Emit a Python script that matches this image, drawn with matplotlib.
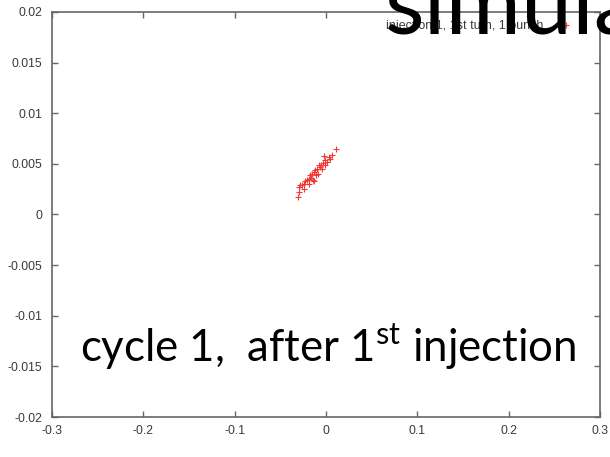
import matplotlib
matplotlib.use("Agg")
import matplotlib.pyplot as plt

# ================================
# Particle positions after the first injection (turn 1, bunch 1)
# ================================
x_pos = [0.0113, 0.0066, 0.0029, -0.0025, -0.0007, -0.0036, -0.0051, -0.0062,
         -0.0080, -0.0099, -0.0117, -0.0135, -0.0153, -0.0172, -0.0161, -0.0146,
         -0.0190, -0.0208, -0.0227, -0.0244, -0.0263, -0.0281, -0.0299, -0.0292,
         -0.0307, -0.0244, -0.0183, -0.0135, -0.0110, -0.0088, -0.0044, -0.0007,
         0.0011, 0.0047]
y_pos = [0.00644, 0.0059, 0.00568, 0.00578, 0.00535, 0.00512, 0.00486, 0.00469,
         0.00492, 0.00452, 0.00436, 0.0042, 0.00403, 0.00387, 0.0036, 0.00338,
         0.00354, 0.00338, 0.00328, 0.00304, 0.00294, 0.00288, 0.00272, 0.00222,
         0.00173, 0.00255, 0.00304, 0.00328, 0.00387, 0.00403, 0.00452, 0.00486,
         0.00519, 0.00551]

x_ticks = [-0.3, -0.2, -0.1, 0, 0.1, 0.2, 0.3]
x_labels = ["-0.3", "-0.2", "-0.1", "0", "0.1", "0.2", "0.3"]
y_ticks = [-0.02, -0.015, -0.01, -0.005, 0, 0.005, 0.01, 0.015, 0.02]
y_labels = ["-0.02", "-0.015", "-0.01", "-0.005", "0", "0.005", "0.01", "0.015", "0.02"]

series_label = "injection 1, 1st turn, 1 bunch"
title_text = "simulation"
note_text = r"cycle 1,  after 1$^{\mathrm{st}}$ injection"

plt.rcParams["font.family"] = ["Liberation Sans", "DejaVu Sans"]
plt.rcParams["mathtext.fontset"] = "custom"
plt.rcParams["mathtext.rm"] = "Lato"

fig = plt.figure(figsize=(6.1, 4.57), dpi=100)
ax = fig.add_axes([52 / 610, 40 / 457, 548 / 610, 405 / 457])

ax.plot(x_pos, y_pos, linestyle="none", marker="+", color="#f03a3a",
        markersize=5, markeredgewidth=0.8, label=series_label)

ax.set_xlim(-0.3, 0.3)
ax.set_ylim(-0.02, 0.02)
ax.set_xticks(x_ticks)
ax.set_xticklabels(x_labels)
ax.set_yticks(y_ticks)
ax.set_yticklabels(y_labels)

ax.tick_params(direction="in", top=True, right=True, length=4, width=1,
               color="#666666", labelcolor="#3a3a3a", labelsize=8.8)
ax.tick_params(axis="y", pad=7)
ax.tick_params(axis="x", pad=6)
for sp in ax.spines.values():
    sp.set_color("#666666")
    sp.set_linewidth(1.2)

leg = ax.legend(loc="upper right", markerfirst=False, frameon=False,
                fontsize=9, handlelength=1.2, handletextpad=1.2,
                borderaxespad=1.7, labelcolor="#3a3a3a",
                bbox_to_anchor=(1.0, 1.045))

# big heading, runs off the right edge
fig.text(385 / 610, 1 - 33 / 457, title_text, fontsize=66, family="Lato",
         color="black", va="baseline", ha="left")

fig.text(80 / 610, 1 - 362 / 457, note_text, fontsize=31.5, family="Lato",
         color="black", va="baseline", ha="left")

fig.savefig("out.png", dpi=100)
